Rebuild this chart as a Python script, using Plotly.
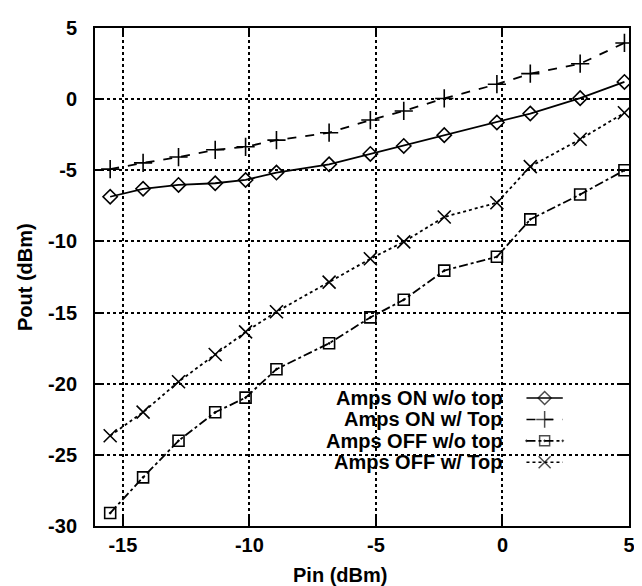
import plotly.graph_objects as go

# ---- data ----
pin = [-15.5, -14.2, -12.8, -11.35, -10.15, -8.93, -6.85, -5.22, -3.9, -2.3, -0.22, 1.1, 3.07, 4.82]
on_wo_top = [-6.86, -6.3, -6.03, -5.91, -5.68, -5.16, -4.58, -3.85, -3.29, -2.53, -1.64, -1.01, 0.07, 1.21]
on_w_top = [-4.92, -4.48, -4.07, -3.56, -3.35, -2.88, -2.36, -1.47, -0.83, 0.05, 1.05, 1.79, 2.49, 3.95]
off_wo_top = [-29.09, -26.58, -24.01, -22.01, -20.98, -18.98, -17.16, -15.34, -14.1, -12.05, -11.08, -8.45, -6.7, -5.0]
off_w_top = [-23.66, -22.0, -19.86, -17.95, -16.36, -14.94, -12.86, -11.22, -10.03, -8.28, -7.28, -4.74, -2.82, -0.96]

series_names = ["Amps ON w/o top", "Amps ON w/ Top", "Amps OFF w/o top", "Amps OFF w/ Top"]
x_ticks = [-15, -10, -5, 0, 5]
x_tick_labels = ["-15", "-10", "-5", "0", "5"]
y_ticks = [5, 0, -5, -10, -15, -20, -25, -30]
y_tick_labels = ["5", "0", "-5", "-10", "-15", "-20", "-25", "-30"]

series_values = [on_wo_top, on_w_top, off_wo_top, off_w_top]
styles = [
    dict(dash="solid", symbol="diamond-open", size=11),
    dict(dash="dash", symbol="cross-thin-open", size=13),
    dict(dash="dashdot", symbol="square-open-dot", size=11),
    dict(dash="dot", symbol="x-thin-open", size=13),
]

FAM = "Liberation Sans, Arial, sans-serif"
BOLD = dict(family=FAM, size=20, color="black", weight="bold")

fig = go.Figure()
for name, vals, st in zip(series_names, series_values, styles):
    fig.add_trace(go.Scatter(
        x=pin, y=vals, mode="lines+markers", name=name, showlegend=False,
        line=dict(color="black", width=1.8, dash=st["dash"]),
        marker=dict(symbol=st["symbol"], size=st["size"], color="black",
                    line=dict(color="black", width=1.6)),
    ))

# ---- custom legend (text left, sample right) on hidden overlay axes ----
leg_rows = [0.257, 0.214, 0.171, 0.128]
for name, st, yy in zip(series_names, styles, leg_rows):
    fig.add_trace(go.Scatter(
        x=[0.808, 0.842, 0.876], y=[yy, yy, yy], xaxis="x2", yaxis="y2",
        mode="lines+markers", showlegend=False, hoverinfo="skip",
        line=dict(color="black", width=1.6, dash=st["dash"]),
        marker=dict(symbol=st["symbol"], size=[0, st["size"] - 1, 0], color="black",
                    line=dict(color="black", width=1.5)),
    ))
    fig.add_annotation(x=0.766, y=yy, xref="x2", yref="y2", text=name, showarrow=False,
                       xanchor="right", yanchor="middle", borderpad=0,
                       font=dict(BOLD, size=20))

# axis titles
fig.add_annotation(x=-0.131, y=0.5, xref="paper", yref="paper", text="Pout (dBm)",
                   textangle=-90, showarrow=False, xanchor="center", yanchor="middle",
                   font=dict(BOLD, size=20))
fig.add_annotation(x=0.459, y=-0.098, xref="paper", yref="paper", text="Pin (dBm)",
                   showarrow=False, xanchor="center", yanchor="middle", borderpad=0,
                   font=dict(BOLD, size=20))

axis_common = dict(
    showline=True, linecolor="black", linewidth=2, mirror="ticks",
    ticks="inside", ticklen=9, tickwidth=2, tickcolor="black",
    showgrid=True, gridcolor="black", gridwidth=1.5, griddash="dot",
    zeroline=False, tickfont=BOLD, ticklabeloverflow="allow",
)

fig.update_layout(
    width=642, height=586,
    margin=dict(l=87, r=21, t=9, b=68),
    paper_bgcolor="white", plot_bgcolor="white",
    xaxis=dict(axis_common, range=[-16.1, 5], tickvals=x_ticks, ticktext=x_tick_labels,
               ticklabelstandoff=0),
    yaxis=dict(axis_common, range=[-30, 5], tickvals=y_ticks, ticktext=y_tick_labels,
               ticklabelstandoff=12),
    xaxis2=dict(overlaying="x", range=[0, 1], visible=False),
    yaxis2=dict(overlaying="y", range=[0, 1], visible=False),
)

fig.write_html("out.html")
